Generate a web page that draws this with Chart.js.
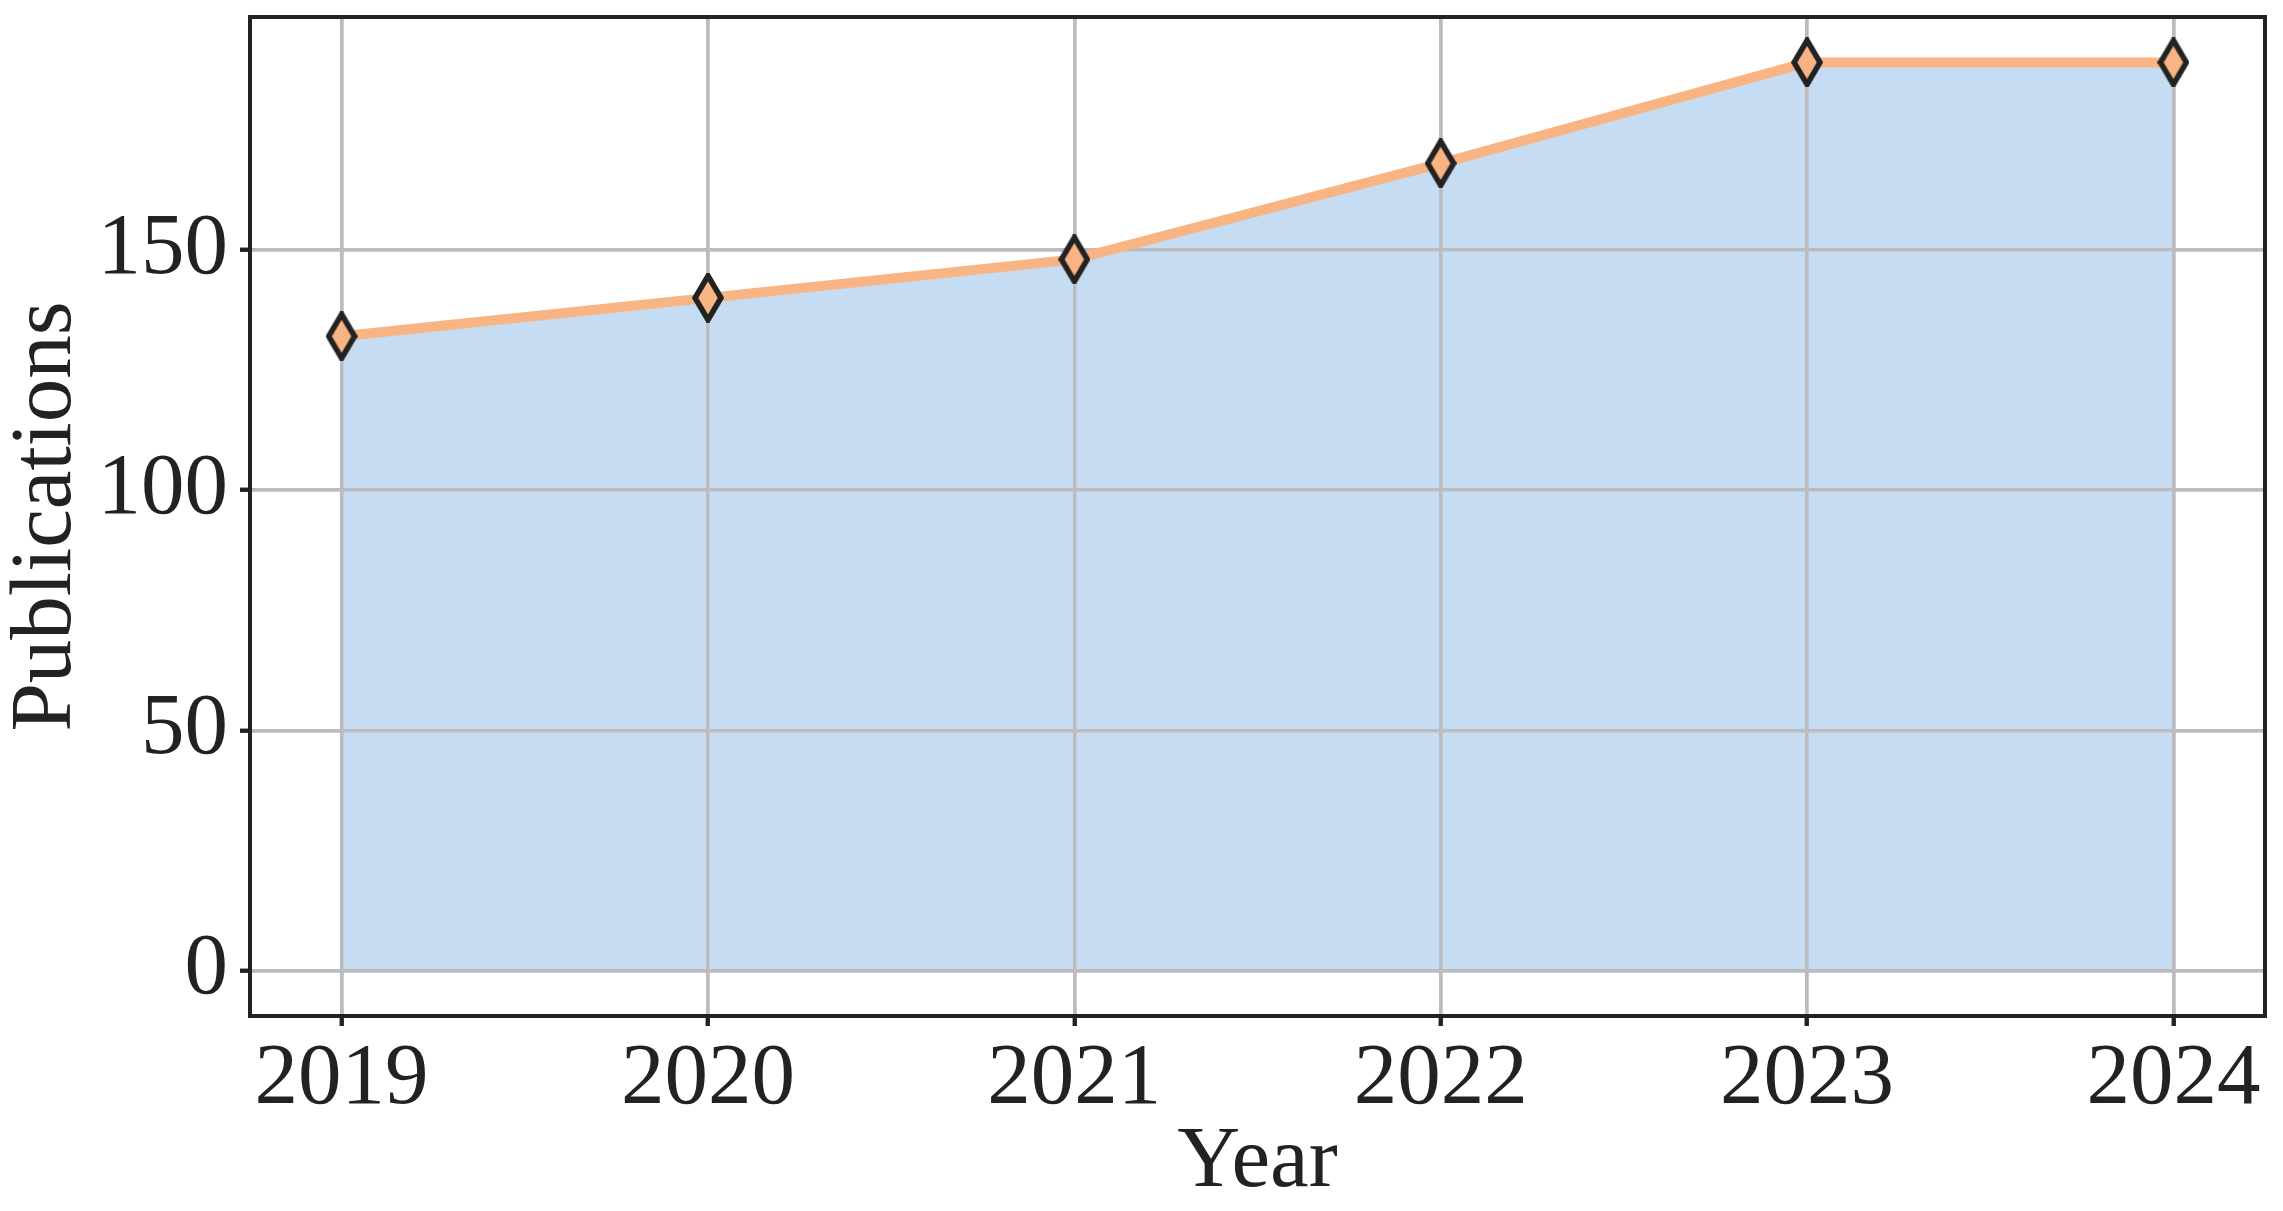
<!DOCTYPE html>
<html>
<head>
<meta charset="utf-8">
<title>Publications per year</title>
<script src="https://cdn.jsdelivr.net/npm/chart.js@4.4.1/dist/chart.umd.min.js"></script>
<style>
  html, body { margin: 0; padding: 0; background: #fff; }
  #chart { display: block; }
</style>
</head>
<body>
<canvas id="chart" width="2283" height="1211"></canvas>
<script>
// data
let years = [2019, 2020, 2021, 2022, 2023, 2024];
let publications = [132, 140, 148, 168, 189, 189];
let yTicks = [0, 50, 100, 150];

let fontFam = "'Liberation Serif', 'DejaVu Serif', serif";
let ink = '#222222';
let gridGray = '#bcbcc0';

// thin diamond marker, like matplotlib 'd'
function diamond() {
  let c = document.createElement('canvas');
  c.width = 32; c.height = 50;
  let g = c.getContext('2d');
  g.beginPath();
  g.moveTo(16, 3);
  g.lineTo(29, 25);
  g.lineTo(16, 47);
  g.lineTo(3, 25);
  g.closePath();
  g.fillStyle = '#f8b482';
  g.fill();
  g.lineWidth = 5.5;
  g.lineJoin = 'miter';
  g.strokeStyle = ink;
  g.stroke();
  return c;
}

let pts = years.map((y, i) => ({ x: y, y: publications[i] }));

// grid goes over the blue fill but under the orange line
let gridOverFill = {
  id: 'gridOverFill',
  afterDatasetDraw(chart, args) {
    if (args.index === 0) {
      chart.scales.x.drawGrid(chart.chartArea);
      chart.scales.y.drawGrid(chart.chartArea);
    }
  }
};

let frame = {
  id: 'frame',
  afterDraw(chart) {
    let a = chart.chartArea, ctx = chart.ctx;
    ctx.save();
    ctx.strokeStyle = ink;
    ctx.lineWidth = 4;
    ctx.strokeRect(a.left, a.top, a.right - a.left, a.bottom - a.top);
    ctx.restore();
  }
};

new Chart(document.getElementById('chart'), {
  type: 'line',
  data: {
    datasets: [{
      data: pts,
      order: 2,
      borderWidth: 0,
      pointRadius: 0,
      fill: 'origin',
      backgroundColor: '#c6dcf2'
    }, {
      data: pts,
      order: 1,
      borderColor: '#f8b482',
      borderWidth: 10,
      fill: false,
      tension: 0,
      clip: false,
      pointStyle: diamond(),
      // the image is drawn at its own size, radius only has to be > 0
      pointRadius: 1,
      pointHoverRadius: 1,
      pointBorderWidth: 0
    }]
  },
  options: {
    responsive: false,
    animation: false,
    events: [],
    layout: { padding: { top: 17, right: 18, left: 0, bottom: 0 } },
    plugins: { legend: { display: false }, tooltip: { enabled: false } },
    scales: {
      x: {
        type: 'linear',
        min: 2018.75,
        max: 2024.25,
        afterBuildTicks: (s) => { s.ticks = years.map(v => ({ value: v })); },
        afterFit: (s) => { s.height = 195; s.paddingLeft = 0; s.paddingRight = 0; },
        grid: { color: gridGray, lineWidth: 3.5, tickColor: ink, tickLength: 10, tickWidth: 4 },
        border: { color: ink, width: 4 },
        ticks: {
          color: ink, padding: 2,
          font: { family: fontFam, size: 87, lineHeight: 1.2 },
          callback: (v) => String(v)
        },
        title: {
          display: true, text: 'Year', color: ink, padding: 4,
          font: { family: fontFam, size: 87, lineHeight: 1 }
        }
      },
      y: {
        min: -9.45,
        max: 198.45,
        afterBuildTicks: (s) => { s.ticks = yTicks.map(v => ({ value: v })); },
        afterFit: (s) => { s.width = 250; s.paddingTop = 0; s.paddingBottom = 0; },
        grid: { color: gridGray, lineWidth: 3.5, tickColor: ink, tickLength: 10, tickWidth: 4 },
        border: { color: ink, width: 4 },
        ticks: {
          color: ink, padding: 12,
          font: { family: fontFam, size: 87, lineHeight: 1.2 }
        },
        title: {
          display: true, text: 'Publications', color: ink, padding: 4,
          font: { family: fontFam, size: 87, lineHeight: 1 }
        }
      }
    }
  },
  plugins: [gridOverFill, frame]
});
</script>
</body>
</html>
